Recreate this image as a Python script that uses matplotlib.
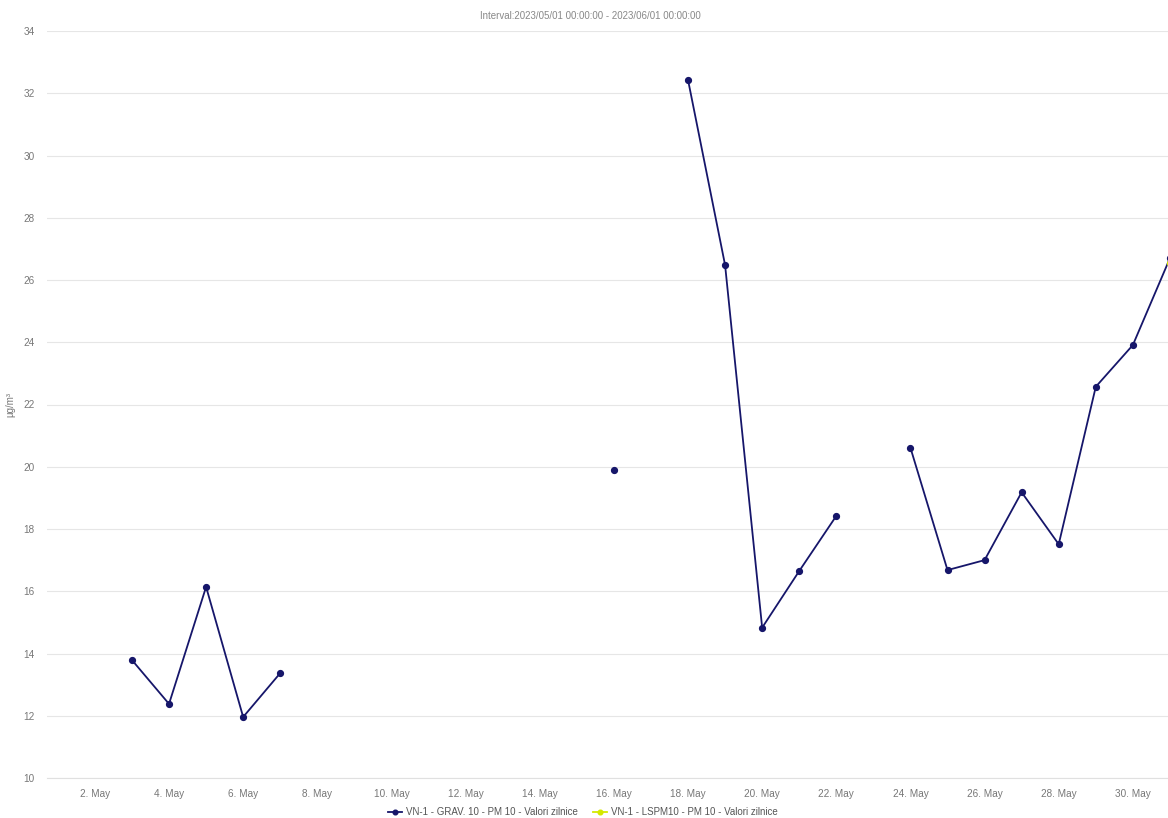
import datetime as dt

import matplotlib
matplotlib.use("Agg")
import matplotlib.dates as mdates
import matplotlib.pyplot as plt
import numpy as np

plt.rcParams["font.family"] = ["Liberation Sans", "DejaVu Sans"]

# --- Data: daily PM10 values, May 2023 (None = no measurement) ---
days = list(range(1, 32))
grav_pm10 = [
    None, None, 13.79, 12.38, 16.14, 11.96, 13.37, None, None, None,
    None, None, None, None, None, 19.88, None, 32.43, 26.48, 14.83,
    16.65, 18.42, None, 20.61, 16.68, 17.0, 19.18, 17.51, 22.57, 23.91,
    26.7,
]
lspm_pm10 = [None] * 30 + [26.55]

title = "Interval:2023/05/01 00:00:00 - 2023/06/01 00:00:00"
label_grav = "VN-1 - GRAV. 10 - PM 10 - Valori zilnice"
label_lspm = "VN-1 - LSPM10 - PM 10 - Valori zilnice"

dates = [dt.datetime(2023, 5, d) for d in days]
grav = np.array([np.nan if v is None else v for v in grav_pm10])
lspm = np.array([np.nan if v is None else v for v in lspm_pm10])

fig = plt.figure(figsize=(11.68, 8.18), dpi=100)
ax = fig.add_axes([47 / 1168, 40 / 818, 1121 / 1168, 747 / 818])

navy = "#16166a"
ax.plot(dates, grav, color=navy, linewidth=1.3, marker="o", markersize=4.2,
        label=label_grav, zorder=3)
ax.plot(dates, lspm, color="#d4e800", linewidth=1.3, marker="o", markersize=4.2,
        label=label_lspm, zorder=4)

# axes ranges: plot area is cut off just before 31 May
x0 = dt.datetime(2023, 5, 1) - dt.timedelta(hours=7)
x1 = dt.datetime(2023, 5, 30, 22, 45)
ax.set_xlim(x0, x1)
ax.set_ylim(10, 34)
ax.set_yticks(np.arange(10, 35, 2))

ax.xaxis.set_major_locator(mdates.DayLocator(bymonthday=range(2, 31, 2)))
ax.xaxis.set_major_formatter(mdates.DateFormatter("%-d. %b"))

# Highcharts-like styling
ax.grid(True, axis="y", color="#e6e6e6", linewidth=0.8, zorder=0)
for side in ["top", "right", "left"]:
    ax.spines[side].set_visible(False)
ax.spines["bottom"].set_color("#e0e0e0")
ax.spines["bottom"].set_linewidth(0.8)
ax.tick_params(axis="both", length=0, labelsize=7.2, labelcolor="#777777")
ax.tick_params(axis="x", pad=8)
ax.tick_params(axis="y", pad=9)

ax.set_ylabel("µg/m³", fontsize=7, color="#777777", labelpad=6)
fig.text(590 / 1168, 1 - 16 / 818, title, ha="center", va="center",
         fontsize=7, color="#888888")

fig.legend(loc="center", bbox_to_anchor=(583 / 1168, 1 - 812 / 818), ncol=2,
           frameon=False, fontsize=7, handlelength=1.4, columnspacing=1.6,
           handletextpad=0.4, markerscale=0.8, labelcolor="#555555")

fig.savefig("out.png", dpi=100)
